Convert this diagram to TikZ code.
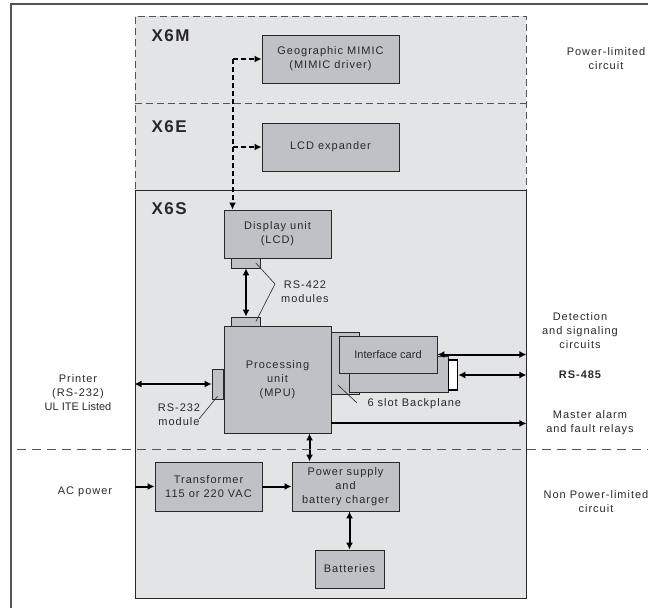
\documentclass[tikz,border=0pt]{standalone}
\usepackage{fontspec}
\setmainfont{Liberation Sans}[LetterSpace=9]
\newfontfamily\tightsf{Liberation Sans}
\usetikzlibrary{arrows.meta,positioning,calc}
\definecolor{zonefill}{RGB}{227,228,230}
\definecolor{boxfill}{RGB}{190,193,197}
\definecolor{inkgray}{RGB}{40,40,40}
\definecolor{framegray}{RGB}{85,85,85}
\tikzset{
  unitbox/.style={draw=inkgray,fill=boxfill,line width=0.9pt,inner sep=0pt,align=center,text=inkgray},
  tabbox/.style={draw=inkgray,fill=boxfill,line width=0.7pt,inner sep=0pt},
  link/.style={line width=2pt,{Latex[length=7pt,width=7pt]}-{Latex[length=7pt,width=7pt]}},
  feed/.style={line width=2pt,-{Latex[length=7pt,width=7pt]}},
  dfeed/.style={feed,dash pattern=on 5pt off 3pt},
  leader/.style={line width=0.6pt,draw=inkgray},
  zonelabel/.style={font=\fontsize{17}{20}\selectfont\bfseries,text=inkgray,anchor=west},
  sidetext/.style={align=center,text=inkgray},
}
\begin{document}
\begin{tikzpicture}[x=1pt,y=-1pt,>=Latex,every node/.style={font=\fontsize{11}{14}\selectfont}]
\useasboundingbox (0,0) rectangle (648,608);
% Frame
\draw[framegray,line width=2pt] (11,608) -- (11,4) -- (648,4);
% Zones
\node (xtop) [fill=zonefill,draw=inkgray!80,line width=0.8pt,dash pattern=on 7pt off 4pt,
  minimum width=391pt,minimum height=174pt,inner sep=0pt] at (330.5,103) {};
\draw[draw=inkgray!80,line width=0.8pt,dash pattern=on 7pt off 4pt] (xtop.west) -- (xtop.east);
\node (xs) [fill=zonefill,draw=inkgray,line width=0.9pt,
  minimum width=391pt,minimum height=408pt,inner sep=0pt] at (330.5,394) {};
\node[zonelabel] (lxm) at (148,36) {X6M};
\node[zonelabel] (lxe) at (148,127) {X6E};
\node[zonelabel] (lxs) at (148,209) {X6S};
% Units
\node[unitbox,minimum width=137pt,minimum height=48pt] (mimic) at (330.5,59) {Geographic MIMIC\\(MIMIC driver)};
\node[unitbox,minimum width=137pt,minimum height=48pt] (lcdx) at (330.5,147) {LCD expander};
\node[unitbox,minimum width=107pt,minimum height=48pt] (disp) at (277.5,234) {Display unit\\(LCD)};
\node[tabbox,minimum width=29pt,minimum height=10pt] (tabd) at (246,263) {};
\node[tabbox,minimum width=29pt,minimum height=9pt] (tabm) at (246,321.5) {};
% Backplane and cards
\node[tabbox,minimum width=39pt,minimum height=62pt] (bplane) at (339.5,363) {};
\node[unitbox,minimum width=107pt,minimum height=107pt] (mpu) at (277.5,379.5) {Processing\\unit\\(MPU)};
\node[tabbox,minimum width=11pt,minimum height=30pt] (tabl) at (217.5,384) {};
\node[unitbox,minimum width=99pt,minimum height=36pt] (card2) at (398.5,374) {};
\node[unitbox,minimum width=98pt,minimum height=37pt,font=\tightsf\fontsize{11}{14}\selectfont] (card) at (388,354.5) {Interface card};
\node[draw=black,fill=white,line width=1.5pt,minimum width=9pt,minimum height=30pt,inner sep=0pt] (conn) at (453,375) {};
% Power
\node[unitbox,minimum width=107pt,minimum height=49pt] (trans) at (208.5,486.5) {Transformer\\115 or 220 VAC};
\node[unitbox,minimum width=107pt,minimum height=49pt] (psu) at (345.5,486.5) {Power supply\\and\\battery charger};
\node[unitbox,minimum width=69pt,minimum height=38pt] (batt) at (349.5,569) {Batteries};
% Dashed feeds
\coordinate (bus) at (232.5,59);
\draw[dfeed] (bus) -- (mimic.west);
\draw[dfeed] (bus |- lcdx.west) -- (lcdx.west);
\draw[dfeed] (bus) -- (bus |- disp.north);
% Links
\draw[link] (tabd.south) -- (tabm.north);
\draw[link] (card.east) -- (card.east -| xs.east);
\draw[link] (conn.east) -- (conn.east -| xs.east);
\draw[link] (tabl.west -| xs.west) -- (tabl.west);
\coordinate (alarm) at ($(mpu.south east)+(0,-10)$);
\draw[feed] (alarm) -- (alarm -| xs.east);
\coordinate (pdrop) at ($(psu.north west)+(18,0)$);
\draw[link] (pdrop |- mpu.south) -- (pdrop);
\draw[feed] (trans.west -| xs.west) -- (trans.west);
\draw[feed] (trans.east) -- (psu.east -| psu.west);
\draw[link] (batt.north |- psu.south) -- (batt.north);
% Leaders
\draw[leader] ($(tabd.east)+(-5,0)$) -- (275,284) -- ($(tabm.east)+(-5,0)$);
\draw[leader] (199,419) -- ($(tabl.south)+(0,-3)$);
\draw[leader] (338,385) -- (357,403);
% Limit line
\draw[framegray,line width=1pt,dash pattern=on 9pt off 6pt] (17,449) -- (648,449);
% Labels
\node[sidetext] (lpl) at (606,59) {Power-limited\\circuit};
\node[sidetext] (lnpl) at (596,502) {Non Power-limited\\circuit};
\node[sidetext] (ldet) at (580,331) {Detection\\and signaling\\circuits};
\node[sidetext,font=\fontsize{11}{14}\selectfont\bfseries] (l485) at (580,375) {RS-485};
\node[sidetext] (lalarm) at (590,423) {Master alarm\\and fault relays};
\node[sidetext] (lprn) at (78,393) {Printer\\(RS-232)\\{\tightsf UL ITE Listed}};
\node[sidetext] (lac) at (85,492) {AC power};
\node[sidetext] (l422) at (305,292) {RS-422\\modules};
\node[sidetext] (l232) at (179,415) {RS-232\\module};
\node[sidetext,anchor=west] (lbp) at (364,404) {6 slot Backplane};
\end{tikzpicture}
\end{document}
